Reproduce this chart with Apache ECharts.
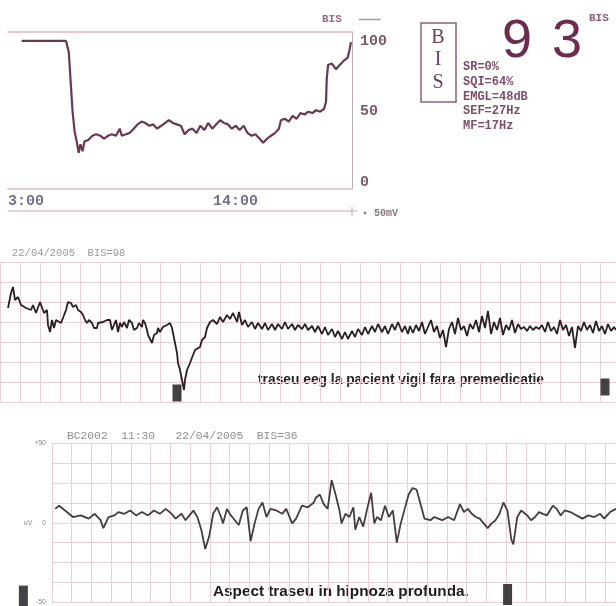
<!DOCTYPE html>
<html>
<head>
<meta charset="utf-8">
<script src="https://cdn.jsdelivr.net/npm/echarts/dist/echarts.min.js"></script>
<style>html,body{margin:0;padding:0;background:#fff}#c{width:616px;height:606px}</style>
</head>
<body>
<div id="c"></div>
<script>
// ---- Trend panel: BIS over time (minutes after 13:00) ----
const trendBis = [[4.0,100],[17.0,100],[17.8,92],[18.4,69],[18.9,50],[19.5,36],[20.1,29],[20.7,21],[21.2,27],[21.8,22],[22.4,29],[23.5,30],[24.7,33],[25.8,34],[27.0,33],[28.1,31],[29.3,33],[30.4,34],[31.6,33],[32.7,38],[33.3,33],[34.5,34],[35.6,35],[36.8,38],[37.9,41],[39.1,43],[40.2,42],[41.4,40],[42.5,41],[43.7,38],[44.8,40],[46.0,42],[47.1,44],[48.3,42],[49.4,41],[50.6,40],[51.7,34],[52.9,37],[54.0,38],[55.2,35],[56.3,40],[57.5,37],[58.6,42],[59.8,38],[60.9,41],[62.1,44],[63.2,42],[64.4,41],[65.5,38],[66.7,40],[67.8,37],[69.0,40],[70.1,35],[71.3,33],[72.4,34],[73.6,31],[74.7,28],[75.9,31],[77.0,33],[78.2,35],[79.3,38],[79.9,44],[81.0,45],[82.2,43],[83.3,47],[84.5,45],[85.6,49],[86.8,48],[87.9,50],[89.1,49],[90.2,51],[91.4,50],[92.5,52],[93.1,57],[93.3,73],[93.7,83],[94.8,84],[96.0,80],[97.1,83],[98.3,86],[99.4,88],[100.0,94],[100.4,99]];
const trendTimeTicks = [0, 60];
const trendTimeLabels = ['3:00', '14:00'];
const bisTicks = [0, 50, 100];

// ---- Monitor read-out ----
const bisValue = 93;
const bisLetters = ['B', 'I', 'S'];
const paramLines = ['SR=0%', 'SQI=64%', 'EMGL=48dB', 'SEF=27Hz', 'MF=17Hz'];

// ---- EEG awake (time ms, amplitude uV) ----
const awakeHeader = '22/04/2005  BIS=98';
const awakeEeg = [[80,7],[110,14.5],[130,17.5],[150,11],[180,12.5],[210,8.5],[230,9.5],[260,7],[280,7.5],[310,6],[330,8.5],[360,4.5],[380,5],[400,10],[420,9.5],[440,4.5],[470,6],[480,-1.5],[500,-5],[520,1],[540,-3],[560,1],[580,0],[610,-0.5],[630,2],[660,6],[680,10],[710,9.5],[730,7.5],[760,8.5],[780,6],[810,5],[830,3.5],[850,1],[870,-0.5],[890,1],[920,-0.5],[940,-3],[970,-3],[980,-0.5],[1000,-1.5],[1030,0],[1050,-0.5],[1070,1],[1100,1],[1120,-4],[1130,-3],[1160,1],[1180,-5],[1200,-0.5],[1220,-2.5],[1240,0],[1270,-3],[1290,1],[1320,-0.5],[1340,-4],[1370,-3],[1390,-0.5],[1420,-2.5],[1430,1],[1450,-0.5],[1470,-4],[1480,-6.5],[1520,-10.5],[1540,-6.5],[1570,-5.5],[1580,-3],[1600,-5],[1630,-2.5],[1650,-3],[1670,-1.5],[1700,-0.5],[1720,-3],[1730,-5.5],[1750,-10.5],[1770,-15.5],[1780,-20.5],[1800,-24],[1820,-29],[1830,-31.5],[1840,-34],[1850,-29],[1870,-24],[1900,-20.5],[1930,-16.5],[1950,-14],[1970,-13],[2000,-12.5],[2020,-9],[2050,-7.5],[2070,-3],[2100,0],[2130,1],[2170,-1],[2200,2.5],[2230,0],[2270,3.5],[2300,1.5],[2330,4.5],[2370,0],[2390,5],[2420,-1.5],[2450,1],[2480,-2.5],[2520,0],[2550,-3.5],[2580,-0.5],[2620,-3.5],[2650,-0.5],[2680,-4],[2720,-1],[2750,-4],[2780,-1],[2820,-3.5],[2850,0],[2880,-3.5],[2920,-1],[2950,-4],[2980,-1.5],[3020,-3.5],[3050,-1],[3080,-4],[3120,-2],[3150,-5],[3180,-2],[3220,-6],[3250,-2.5],[3280,-6.5],[3320,-3.5],[3350,-7.5],[3380,-4.5],[3420,-8.5],[3450,-5],[3480,-8.5],[3520,-4.5],[3550,-7.5],[3580,-3.5],[3620,-6.5],[3650,-2.5],[3680,-6],[3720,-2],[3750,-5],[3780,-1],[3820,-5],[3850,-2],[3880,-6],[3920,-1],[3950,-4],[3980,0],[4020,-5],[4050,-2],[4080,-6],[4100,-2],[4130,-5.5],[4160,-1.5],[4190,-4.5],[4220,0],[4250,-6],[4280,-2.5],[4310,1],[4340,-5],[4370,-2],[4400,-8],[4430,-4],[4460,-12.5],[4490,-3.5],[4520,0],[4550,-6],[4580,2],[4610,-4],[4640,-2],[4670,-7],[4700,-1],[4730,-3.5],[4760,1],[4790,-5],[4820,3],[4850,-3],[4880,5.5],[4910,-6],[4940,0],[4970,-4],[5000,2],[5030,-6.5],[5060,-1.5],[5090,-4],[5120,1],[5150,-5.5],[5180,-1],[5210,-3.5],[5240,-2.5],[5270,-4.5],[5300,-2],[5330,-4],[5360,-2.5],[5390,-3.5],[5420,-1.5],[5450,-5],[5480,0],[5510,-4.5],[5540,-2.5],[5570,-6],[5600,1],[5630,-4],[5660,-1.5],[5690,-7],[5720,-2.5],[5750,-13],[5780,-2],[5810,-4.5],[5840,0],[5870,-4],[5900,-1.5],[5930,-5.5],[5960,0.5],[5990,-4.5],[6020,-2],[6050,-6],[6080,-1],[6110,-4.5],[6140,-2.5],[6160,-4]];
const awakeMarkers = [[1770,-35.5],[6050,-32.5]];
const awakeNote = 'traseu eeg la pacient vigil fara premedicatie';

// ---- EEG deep hypnosis (time ms, amplitude uV) ----
const deepHeader = 'BC2002  11:30   22/04/2005  BIS=36';
const deepTicks = [50, 0, -50];
const deepTickLabels = ['+50', 'uV     0', '-50'];
const deepEeg = [[32,8.7],[72,10.7],[132,7.7],[212,3.6],[292,4.6],[372,2.6],[432,5.6],[492,1.6],[520,-3.4],[572,3.6],[632,4.6],[672,6.7],[732,5.6],[792,7.7],[852,4.6],[912,6.7],[972,4.6],[1032,7.7],[1092,5.6],[1152,8.7],[1212,5.6],[1252,2.6],[1312,5.6],[1352,1.6],[1392,4.6],[1432,7.7],[1472,3.6],[1512,-4.4],[1552,-16.5],[1592,-8.5],[1632,5.6],[1672,9.7],[1712,3.6],[1732,-0.4],[1772,8.7],[1812,4.6],[1852,1.6],[1892,-1.4],[1932,7.7],[1972,9.7],[2012,-11.5],[2052,-0.4],[2092,8.7],[2132,12.7],[2172,3.6],[2212,8.7],[2272,7.7],[2332,5.6],[2372,8.7],[2432,-0.4],[2472,2.6],[2532,10.7],[2592,9.7],[2652,12.7],[2672,15.7],[2712,17.7],[2752,11.7],[2792,8.7],[2832,26.8],[2872,17.7],[2912,7.7],[2932,-0.4],[2972,5.6],[3012,3.6],[3052,9.7],[3072,-4.4],[3112,3.6],[3152,-2.4],[3192,8.7],[3232,18.8],[3264,-0.4],[3292,3.6],[3332,1.6],[3372,10.7],[3412,3.6],[3452,7.7],[3492,-12.5],[3532,-0.4],[3572,8.7],[3612,17.7],[3652,21.8],[3692,20.8],[3732,11.7],[3772,2.6],[3832,1.6],[3872,3.6],[3912,2.6],[3952,1.6],[4012,3.6],[4072,1.6],[4132,11.7],[4172,6.7],[4212,8.7],[4252,5.6],[4292,3.6],[4332,2.6],[4372,-0.4],[4412,-3.4],[4452,-0.4],[4492,1.6],[4532,5.6],[4572,12.7],[4612,7.7],[4652,-10.5],[4672,-13.5],[4712,3.6],[4752,7.7],[4812,4.6],[4852,1.6],[4892,3.6],[4932,6.7],[4972,5.6],[5012,4.6],[5072,10.7],[5112,8.7],[5152,4.6],[5192,7.7],[5252,6.7],[5312,4.6],[5372,2.6],[5432,4.6],[5492,3.6],[5552,5.6],[5592,2.6],[5652,6.7],[5712,8.7]];
const deepMarkers = [[-290,-46],[4614,-45]];
const deepNote = 'Aspect traseu in hipnoza profunda.';

const PINK = '#eacfd7';
const MONO = 'Liberation Mono';
const chart = echarts.init(document.getElementById('c'), null, {renderer: 'canvas'});
const hide = {show: false};
const digits = String(bisValue).split('');

chart.setOption({
  animation: false,
  backgroundColor: '#ffffff',
  legend: {
    data: [{name: 'BIS', icon: 'rect', itemStyle: {color: '#a89ca2'}}],
    left: 322, top: 14, align: 'right', itemWidth: 22, itemHeight: 1.5, padding: 0,
    textStyle: {color: '#9a6a82', fontSize: 11, fontWeight: 'bold', fontFamily: MONO, padding: [0, 12, 0, 0]}
  },
  grid: [
    {left: 8, top: 32, width: 344, height: 157},
    {left: 0, top: 262, width: 616, height: 140},
    {left: 52, top: 443, width: 564, height: 164}
  ],
  xAxis: [
    {gridIndex: 0, type: 'value', min: 0, max: 100.7,
     axisLine: {show: true, onZero: false, lineStyle: {color: '#e8c9cf', width: 2}},
     axisTick: hide, splitLine: hide,
     axisLabel: {customValues: trendTimeTicks, formatter: v => trendTimeLabels[trendTimeTicks.indexOf(v)],
       align: 'left', margin: 5, color: '#75708a', fontSize: 15, fontWeight: 'bold', fontFamily: MONO}},
    {gridIndex: 0, type: 'value', position: 'top', min: 0, max: 100.7,
     axisLine: {show: true, onZero: false, lineStyle: {color: '#e8c9cf', width: 2}},
     axisTick: hide, splitLine: hide, axisLabel: hide},
    {gridIndex: 1, type: 'value', min: 0, max: 6160, interval: 200,
     axisLine: hide, axisTick: hide, axisLabel: hide,
     splitLine: {show: true, lineStyle: {color: PINK, width: 1}}},
    {gridIndex: 2, type: 'value', min: 0, max: 5712, interval: 200,
     axisLine: hide, axisTick: hide, axisLabel: hide,
     splitLine: {show: true, lineStyle: {color: PINK, width: 1}}}
  ],
  yAxis: [
    {gridIndex: 0, type: 'value', position: 'right', min: -4.65, max: 106.3,
     axisLine: {show: true, onZero: false, lineStyle: {color: '#bfaeb6', width: 1}},
     axisTick: hide, splitLine: hide,
     axisLabel: {customValues: bisTicks, margin: 8, color: '#7a5a6c', fontSize: 15, fontWeight: 'bold', fontFamily: MONO}},
    {gridIndex: 1, type: 'value', min: -40, max: 30, interval: 10,
     axisLine: hide, axisTick: hide, axisLabel: hide,
     splitLine: {show: true, lineStyle: {color: PINK, width: 1}}},
    {gridIndex: 2, type: 'value', min: -50, max: 50, interval: 12.5,
     axisLine: hide, axisTick: hide,
     axisLabel: {customValues: deepTicks, formatter: v => deepTickLabels[deepTicks.indexOf(v)],
       margin: 6, color: '#8a8a8a', fontSize: 7, fontFamily: 'Liberation Sans'},
     splitLine: {show: true, lineStyle: {color: PINK, width: 1}}}
  ],
  series: [
    {name: 'BIS', type: 'line', xAxisIndex: 0, yAxisIndex: 0, data: trendBis, showSymbol: false,
     lineStyle: {color: '#6b3852', width: 2.2}, itemStyle: {color: '#6b3852'}},
    {name: 'EEG vigil', type: 'line', xAxisIndex: 2, yAxisIndex: 1, data: awakeEeg, showSymbol: false,
     lineStyle: {color: '#2a1f24', width: 1.8}},
    {name: 'EEG hipnoza', type: 'line', xAxisIndex: 3, yAxisIndex: 2, data: deepEeg, showSymbol: false,
     lineStyle: {color: '#463c40', width: 1.8}},
    {name: 'marker vigil', type: 'scatter', xAxisIndex: 2, yAxisIndex: 1, data: awakeMarkers, clip: false,
     symbol: 'rect', symbolSize: [9, 17], itemStyle: {color: '#141418'}},
    {name: 'marker hipnoza', type: 'scatter', xAxisIndex: 3, yAxisIndex: 2, data: deepMarkers, clip: false,
     symbol: 'rect', symbolSize: [9, 21], itemStyle: {color: '#141418'}}
  ],
  graphic: [
    {type: 'line', shape: {x1: 8, y1: 211, x2: 357, y2: 211}, style: {stroke: '#ecd0d6', lineWidth: 2}},
    {type: 'line', shape: {x1: 352, y1: 207, x2: 352, y2: 216}, style: {stroke: '#bfaeb6', lineWidth: 1}},
    {type: 'text', left: 362, top: 208, style: {text: '▪ 50mV', fill: '#8a7a84', font: 'bold 10px ' + MONO}},
    {type: 'rect', shape: {x: 421, y: 23, width: 35, height: 79}, style: {fill: 'none', stroke: '#8e6078', lineWidth: 1.5}},
    {type: 'text', x: 438, y: 38, style: {text: bisLetters[0], fill: '#6e3d58', font: '20px Liberation Serif', align: 'center', verticalAlign: 'middle'}},
    {type: 'text', x: 438, y: 60, style: {text: bisLetters[1], fill: '#6e3d58', font: '20px Liberation Serif', align: 'center', verticalAlign: 'middle'}},
    {type: 'text', x: 438, y: 83, style: {text: bisLetters[2], fill: '#6e3d58', font: '20px Liberation Serif', align: 'center', verticalAlign: 'middle'}},
    {type: 'text', x: 502, y: 15, style: {text: digits[0], fill: '#6b2c50', font: '54px Liberation Sans', align: 'left', verticalAlign: 'top'}},
    {type: 'text', x: 552, y: 15, style: {text: digits[1], fill: '#6b2c50', font: '54px Liberation Sans', align: 'left', verticalAlign: 'top'}},
    {type: 'text', x: 589, y: 13, style: {text: 'BIS', fill: '#8e6078', font: 'bold 11px ' + MONO}},
    {type: 'text', x: 463, y: 60, style: {text: paramLines.join('\n'), fill: '#7e4e68', font: 'bold 12px ' + MONO, lineHeight: 14.6}},
    {type: 'text', x: 12, y: 248, style: {text: awakeHeader, fill: '#9a9a9a', font: '10.5px ' + MONO}},
    {type: 'text', x: 258, y: 373, style: {text: awakeNote, fill: '#222', font: 'bold 13.8px Liberation Sans'}},
    {type: 'text', x: 67, y: 431, style: {text: deepHeader, fill: '#8e8e8e', font: '11.3px ' + MONO}},
    {type: 'text', x: 213, y: 584, style: {text: deepNote, fill: '#1e1e1e', font: 'bold 15.3px Liberation Sans'}}
  ]
});
</script>
</body>
</html>
